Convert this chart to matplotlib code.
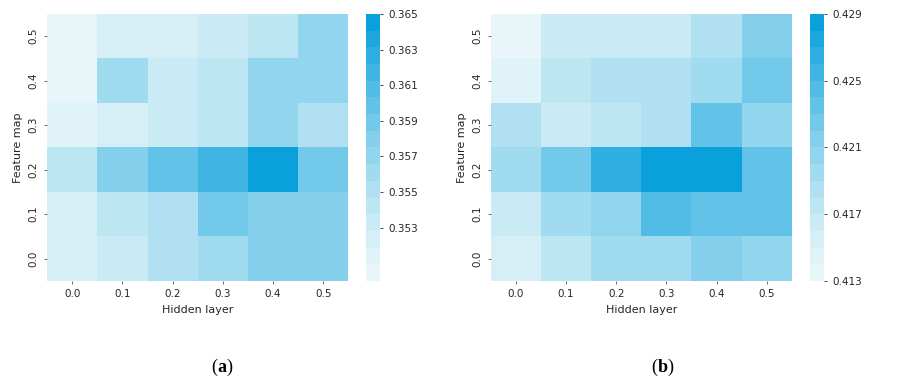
import numpy as np
import matplotlib
matplotlib.use("Agg")
import matplotlib.pyplot as plt
import seaborn as sns
from matplotlib.colors import ListedColormap, to_rgb

hidden = ["0.0", "0.1", "0.2", "0.3", "0.4", "0.5"]
feature = ["0.5", "0.4", "0.3", "0.2", "0.1", "0.0"]  # top to bottom

# rows: feature map 0.5 -> 0.0, cols: hidden layer 0.0 -> 0.5
acc_a = [
    [0.3505, 0.3523, 0.3523, 0.3533, 0.3542, 0.3570],
    [0.3505, 0.3561, 0.3533, 0.3542, 0.3570, 0.3570],
    [0.3514, 0.3523, 0.3533, 0.3542, 0.3570, 0.3552],
    [0.3542, 0.3580, 0.3598, 0.3617, 0.3645, 0.3589],
    [0.3523, 0.3542, 0.3552, 0.3589, 0.3580, 0.3580],
    [0.3523, 0.3533, 0.3552, 0.3561, 0.3580, 0.3580],
]
acc_b = [
    [0.4135, 0.4165, 0.4165, 0.4165, 0.4185, 0.4215],
    [0.4142, 0.4175, 0.4185, 0.4185, 0.4195, 0.4225],
    [0.4185, 0.4165, 0.4175, 0.4185, 0.4235, 0.4205],
    [0.4195, 0.4225, 0.4265, 0.4285, 0.4285, 0.4235],
    [0.4165, 0.4195, 0.4205, 0.4245, 0.4235, 0.4235],
    [0.4155, 0.4175, 0.4195, 0.4195, 0.4215, 0.4205],
]

range_a = (0.350, 0.365)
range_b = (0.413, 0.429)
ticks_a = [0.353, 0.355, 0.357, 0.359, 0.361, 0.363, 0.365]
ticks_b = [0.413, 0.417, 0.421, 0.425, 0.429]

lo = np.array(to_rgb("#e8f6f9"))
hi = np.array(to_rgb("#0aa0dc"))
cmap = ListedColormap([lo + (hi - lo) * t ** 1.25 for t in np.linspace(0, 1, 16)])

fig = plt.figure(figsize=(9.07, 3.87), dpi=100)
panels = [
    (acc_a, range_a, ticks_a, [0.052, 0.274, 0.332, 0.690], [0.404, 0.274, 0.015, 0.690], "a", 0.240),
    (acc_b, range_b, ticks_b, [0.541, 0.274, 0.332, 0.690], [0.893, 0.274, 0.015, 0.690], "b", 0.725),
]
for data, (vmin, vmax), cticks, rect, crect, letter, lx in panels:
    ax = fig.add_axes(rect)
    cax = fig.add_axes(crect)
    sns.heatmap(np.array(data), ax=ax, cbar_ax=cax, cmap=cmap, vmin=vmin, vmax=vmax,
                xticklabels=hidden, yticklabels=feature,
                cbar_kws={"ticks": cticks})
    ax.set_xlabel("Hidden layer", fontsize=8, color="#262626")
    ax.set_ylabel("Feature map", fontsize=8, color="#262626")
    ax.tick_params(labelsize=7.5, colors="#262626", length=2.5, width=0.6, color="#555555")
    plt.setp(ax.get_yticklabels(), rotation=90, va="center")
    plt.setp(ax.get_xticklabels(), rotation=0)
    cax.tick_params(labelsize=7.5, colors="#262626", length=2.5, width=0.6)
    cax.yaxis.set_major_formatter(matplotlib.ticker.FormatStrFormatter("%.3f"))
    for s in cax.spines.values():
        s.set_visible(False)
    fig.text(lx, 0.04, "(", fontsize=13, family="Liberation Serif", ha="right", va="baseline")
    fig.text(lx, 0.04, letter, fontsize=13, family="Liberation Serif", weight="bold", ha="left", va="baseline")
    fig.text(lx + (0.0095 if letter == "a" else 0.0105), 0.04, ")", fontsize=13,
             family="Liberation Serif", ha="left", va="baseline")

fig.savefig("out.png", dpi=100)
